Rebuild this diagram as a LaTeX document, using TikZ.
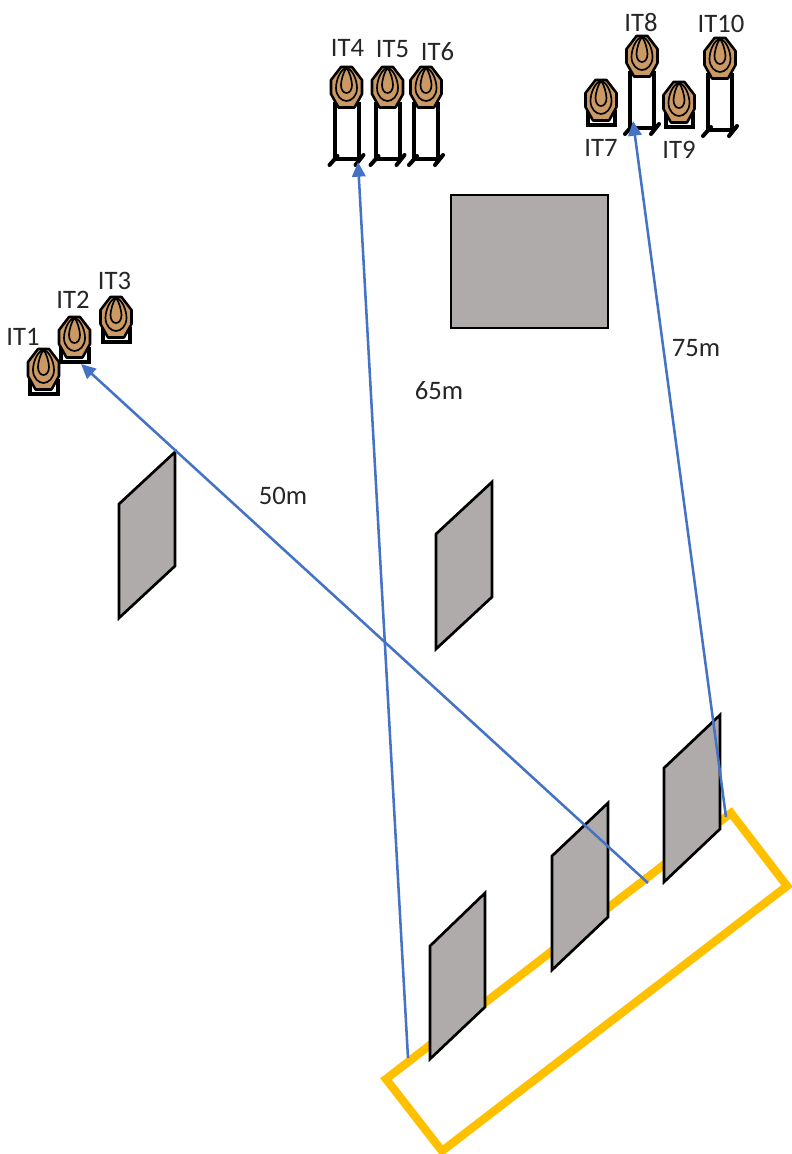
\documentclass[tikz,border=0pt]{standalone}
\usepackage{fontspec}
\setmainfont{Carlito}
\usetikzlibrary{arrows.meta}
\definecolor{wallgray}{HTML}{AFABAB}
\definecolor{targetbrown}{HTML}{CB9A64}
\definecolor{lineblue}{HTML}{4472C4}
\definecolor{lineyellow}{HTML}{FFC000}
\tikzset{
  wall/.style={draw=black,fill=wallgray,line width=2pt,line join=miter},
  zone/.style={draw=lineyellow,line width=6.2pt,line join=miter},
  dist/.style={draw=lineblue,line width=1.9pt,-{Triangle[length=11pt,width=10pt]}},
  lbl/.style={font=\fontsize{20}{22}\selectfont,text=black!85,inner sep=0pt},
  ring/.style={draw=black,line width=1.25pt,line join=round},
  stand/.style={draw=black,line width=3pt},
  pics/face/.style={code={
    \fill[targetbrown,draw=black,line width=1.9pt,line join=round]
      (-5.5,0)--(5.5,0)--(15.5,13)--(15.5,27)--(8,40.5)--(-8,40.5)--(-15.5,27)--(-15.5,13)--cycle;
    \draw[ring] (0,1) .. controls (6,2) and (10.5,13) .. (10.5,21) .. controls (10.5,29) and (5,34) .. (0,34)
      .. controls (-5,34) and (-10.5,29) .. (-10.5,21) .. controls (-10.5,13) and (-6,2) .. (0,1) -- cycle;
    \draw[ring] (0,1) .. controls (3,4) and (5.5,14) .. (5.5,18) .. controls (5.5,23) and (3,26) .. (0,26)
      .. controls (-3,26) and (-5.5,23) .. (-5.5,18) .. controls (-5.5,14) and (-3,4) .. (0,1) -- cycle;
  }},
  pics/talltarget/.style={code={
    \draw[stand] (-12,35)--(-12,92) (12,35)--(12,92);
    \draw[stand] (-13,92)--(14,92);
    \draw[stand,line cap=round] (-17,98)--(-9,89) (9,98)--(17,88);
    \pic {face};
  }},
  pics/shorttarget/.style={code={
    \fill[white] (-14,30) rectangle (14,45);
    \draw[stand] (-13.5,30)--(-13.5,45)--(14,45)--(14,30);
    \draw[black,line width=2pt] (-7,41)--(7,41);
    \pic {face};
  }},
}
\begin{document}
\begin{tikzpicture}[x=0.75pt,y=-0.75pt]
\useasboundingbox (0,0) rectangle (792,1154);

% firing zone
\draw[zone] (386,1079)--(731,813)--(787,886)--(442,1151)--cycle;

% walls
\draw[wall] (451,195) rectangle (608,328);
\draw[wall] (119,504)--(175,452)--(175,566)--(119,618)--cycle;
\draw[wall] (436,534)--(492,482)--(492,597)--(436,649)--cycle;
\draw[wall] (430,946)--(485,893)--(485,1007)--(430,1059)--cycle;
\draw[wall] (552,856)--(608,803)--(608,917)--(552,970)--cycle;
\draw[wall] (664,768)--(720,715)--(720,829)--(664,882)--cycle;

% targets
\pic at (43.5,349) {shorttarget};
\pic at (74.5,317) {shorttarget};
\pic at (116,297) {shorttarget};
\pic at (346.5,67) {talltarget};
\pic at (387.5,67) {talltarget};
\pic at (426,67) {talltarget};
\pic at (601,80) {shorttarget};
\pic at (642,36) {talltarget};
\pic at (679,82) {shorttarget};
\pic at (720,38) {talltarget};

% connector ends
\coordinate (s50) at (648,883);
\coordinate (e50) at (81,364);
\coordinate (s65) at (408,1058);
\coordinate (e65) at (358,162);
\coordinate (s75) at (726,817);
\coordinate (e75) at (633,121);
\draw[dist] (s50)--(e50);
\draw[dist] (s65)--(e65);
\draw[dist] (s75)--(e75);

% labels
\node[lbl] (l1) at (23,337) {IT1};
\node[lbl] (l2) at (73,300) {IT2};
\node[lbl] (l3) at (114.5,281) {IT3};
\node[lbl] (l4) at (347.5,48) {IT4};
\node[lbl] (l5) at (392.5,49) {IT5};
\node[lbl] (l6) at (437.5,52) {IT6};
\node[lbl] (l7) at (601,148) {IT7};
\node[lbl] (l8) at (641,22) {IT8};
\node[lbl] (l9) at (679,150) {IT9};
\node[lbl] (l10) at (721,24) {IT10};
\node[lbl] (d50) at (283,496) {50m};
\node[lbl] (d65) at (439,391) {65m};
\node[lbl] (d75) at (696,348) {75m};
\end{tikzpicture}
\end{document}
